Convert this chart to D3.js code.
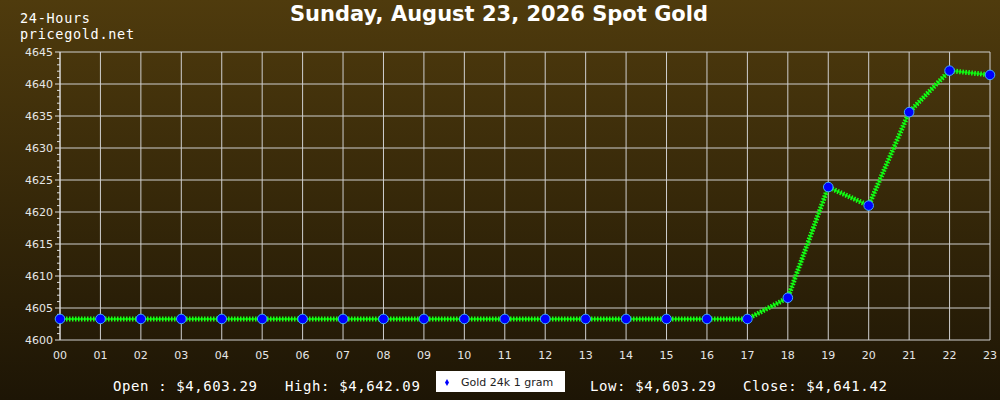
<!DOCTYPE html>
<html>
<head>
<meta charset="utf-8">
<script src="https://cdn.jsdelivr.net/npm/d3@7"></script>
<style>
  body { margin: 0; background: #1e1606; }
  svg { display: block; }
</style>
</head>
<body>
<svg id="chart" width="1000" height="400"></svg>
<script>
// chart data
var hours = ["00","01","02","03","04","05","06","07","08","09","10","11",
             "12","13","14","15","16","17","18","19","20","21","22","23"];
var prices = [4603.29,4603.29,4603.29,4603.29,4603.29,4603.29,4603.29,4603.29,
              4603.29,4603.29,4603.29,4603.29,4603.29,4603.29,4603.29,4603.29,
              4603.29,4603.29,4606.6,4623.9,4621.0,4635.6,4642.09,4641.42];
var yTicks = [4600,4605,4610,4615,4620,4625,4630,4635,4640,4645];
var titleText = "Sunday, August 23, 2026 Spot Gold";
var seriesName = "Gold 24k 1 gram";
var stats = ["Open : $4,603.29", "High: $4,642.09", "Low: $4,603.29", "Close: $4,641.42"];

var svg = d3.select("#chart");
var margin = {top: 52, right: 10, bottom: 60, left: 60};
var width = svg.attr("width") - margin.left - margin.right;
var height = svg.attr("height") - margin.top - margin.bottom;

// background gradient
var grad = svg.append("defs").append("linearGradient")
    .attr("id", "bg")
    .attr("x1", 0).attr("y1", 0).attr("x2", 0).attr("y2", 1);
grad.append("stop").attr("offset", "0%").attr("stop-color", "#4f3b0d");
grad.append("stop").attr("offset", "100%").attr("stop-color", "#1d1505");

svg.append("rect")
    .attr("width", 1000)
    .attr("height", 400)
    .attr("fill", "url(#bg)");

var x = d3.scalePoint()
    .domain(hours)
    .range([0, width]);

var y = d3.scaleLinear()
    .domain([yTicks[0], yTicks[yTicks.length - 1]])
    .range([height, 0]);

var g = svg.append("g")
    .attr("transform", "translate(" + margin.left + "," + margin.top + ")");

// grid
g.append("g")
  .selectAll("line")
  .data(hours)
  .join("line")
    .attr("x1", d => x(d))
    .attr("x2", d => x(d))
    .attr("y1", 0)
    .attr("y2", height)
    .attr("stroke", "#cfcfcf")
    .attr("stroke-width", 1);

g.append("g")
  .selectAll("line")
  .data(yTicks)
  .join("line")
    .attr("x1", 0)
    .attr("x2", width)
    .attr("y1", d => y(d))
    .attr("y2", d => y(d))
    .attr("stroke", "#cfcfcf")
    .attr("stroke-width", 1);

// left axis with minor ticks
var minor = d3.range(yTicks[0], yTicks[yTicks.length - 1] + 1, 1);
g.append("g")
  .selectAll("line")
  .data(minor)
  .join("line")
    .attr("x1", d => yTicks.includes(d) ? -5 : -3)
    .attr("x2", 0)
    .attr("y1", d => y(d))
    .attr("y2", d => y(d))
    .attr("stroke", "#dddddd");

g.append("line")
    .attr("x1", 0).attr("x2", 0)
    .attr("y1", 0).attr("y2", height)
    .attr("stroke", "#dddddd");

g.append("g")
  .selectAll("text")
  .data(yTicks)
  .join("text")
    .attr("x", -7)
    .attr("y", d => y(d))
    .attr("dy", "0.35em")
    .attr("text-anchor", "end")
    .attr("fill", "#e6e6e6")
    .style("font", "11px 'DejaVu Sans'")
    .text(d => d);

g.append("g")
  .selectAll("text")
  .data(hours)
  .join("text")
    .attr("x", d => x(d))
    .attr("y", height + 19)
    .attr("text-anchor", "middle")
    .attr("fill", "#e6e6e6")
    .style("font", "11px 'DejaVu Sans'")
    .text(d => d);

// series line
var line = d3.line()
    .x((d, i) => x(hours[i]))
    .y(d => y(d));

g.append("path")
    .datum(prices)
    .attr("d", line)
    .attr("fill", "none")
    .attr("stroke", "#00d400")
    .attr("stroke-width", 2);

g.append("path")
    .datum(prices)
    .attr("d", line)
    .attr("fill", "none")
    .attr("stroke", "#1aff1a")
    .attr("stroke-width", 5)
    .attr("stroke-dasharray", "1.5,1.5");

g.append("g")
  .selectAll("circle")
  .data(prices)
  .join("circle")
    .attr("cx", (d, i) => x(hours[i]))
    .attr("cy", d => y(d))
    .attr("r", 4.8)
    .attr("fill", "#0000ff")
    .attr("stroke", "#3fa9ff")
    .attr("stroke-width", 1);

// titles
svg.append("text")
    .attr("x", 499)
    .attr("y", 21)
    .attr("text-anchor", "middle")
    .attr("fill", "#ffffff")
    .style("font", "bold 21px 'DejaVu Sans'")
    .text(titleText);

svg.append("text")
    .attr("x", 20)
    .attr("y", 23)
    .attr("fill", "#ffffff")
    .style("font", "13.5px 'DejaVu Sans Mono'")
    .style("letter-spacing", "0.7px")
    .text("24-Hours");

svg.append("text")
    .attr("x", 20)
    .attr("y", 38.5)
    .attr("fill", "#ffffff")
    .style("font", "13.5px 'DejaVu Sans Mono'")
    .style("letter-spacing", "0.7px")
    .text("pricegold.net");

// footer stats
var statX = [113, 285, 590, 743];
svg.append("g")
  .selectAll("text")
  .data(stats)
  .join("text")
    .attr("x", (d, i) => statX[i])
    .attr("y", 391)
    .attr("fill", "#ffffff")
    .style("font", "14px 'DejaVu Sans Mono'")
    .style("letter-spacing", "0.6px")
    .text(d => d);

// legend
var legend = svg.append("g").attr("transform", "translate(436,371)");
legend.append("rect")
    .attr("width", 129)
    .attr("height", 21)
    .attr("fill", "#ffffff");
legend.append("path")
    .attr("d", d3.symbol(d3.symbolDiamond, 14))
    .attr("transform", "translate(11,11.5)")
    .attr("fill", "#0000ff");
legend.append("text")
    .attr("x", 25)
    .attr("y", 15)
    .attr("fill", "#222222")
    .style("font", "11px 'DejaVu Sans'")
    .text(seriesName);
</script>
</body>
</html>
